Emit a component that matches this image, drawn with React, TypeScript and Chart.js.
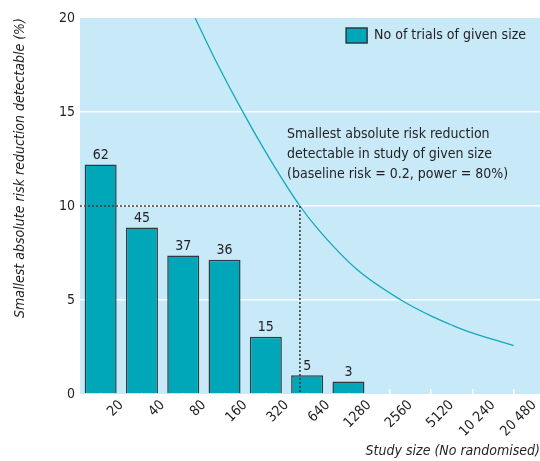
import { useEffect, useRef } from 'react';
import { Chart, registerables } from 'chart.js';

Chart.register(...registerables);

// Bin edges of study size (No randomised); bars sit between consecutive edges
const sizeEdges = [10, 20, 40, 80, 160, 320, 640, 1280, 2560, 5120, 10240, 20480];
const edgeLabels = ['20', '40', '80', '160', '320', '640', '1280', '2560', '5120', '10 240', '20 480'];
const trialCounts = [62, 45, 37, 36, 15, 5, 3];
const barHeights = [12.21, 8.86, 7.37, 7.14, 3.05, 1.0, 0.67];

// Curve: smallest absolute risk reduction detectable (%) vs study size
const curveSizes = [69, 98, 152, 243, 401, 543, 1045, 2187, 3741, 5233, 6617, 14490];
const curveARR = [20.0, 17.7, 15.07, 12.48, 10.0, 8.77, 6.62, 5.0, 4.1, 3.64, 3.35, 2.57];

// Reference (dotted) lines: 10% reduction needs ~400 participants
const refSizes = [10, 401, 401];
const refARR = [10, 10, 0];

const yTickValues = [0, 5, 10, 15, 20];
const axisMaxSize = 22540;

const annotationLines = [
  'Smallest absolute risk reduction',
  'detectable in study of given size',
  '(baseline risk = 0.2, power = 80%)',
];

const FONT = "'DejaVu Sans Condensed', 'Liberation Sans Narrow', sans-serif";
const FS = 14;
const TEXT = '#231f20';
const BG = '#c7e9f8';
const BAR = '#00a7b9';
const BAR_EDGE = '#2e3b40';
const CURVE = '#14a9bb';

export default function App() {
  const ref = useRef<HTMLCanvasElement | null>(null);

  useEffect(() => {
    document.body.style.margin = '0';
    const canvas = ref.current;
    if (!canvas) return;

    const barData = trialCounts.map((_, i) => ({
      x: Math.sqrt(sizeEdges[i] * sizeEdges[i + 1]),
      y: barHeights[i],
    }));
    const curveData = curveSizes.map((n, i) => ({ x: n, y: curveARR[i] }));
    const refData = refSizes.map((n, i) => ({ x: n, y: refARR[i] }));

    const background = {
      id: 'plotBg',
      beforeDraw(chart: any) {
        const { ctx, chartArea: a } = chart;
        ctx.save();
        ctx.fillStyle = BG;
        ctx.fillRect(a.left, a.top, a.right - a.left, a.bottom - a.top);
        ctx.restore();
      },
    };

    const legendInside = {
      id: 'legendInside',
      beforeUpdate(chart: any) {
        const lg = chart.legend;
        if (lg && !lg.__inside) {
          const fit = lg.fit.bind(lg);
          lg.fit = () => {
            fit();
            lg.height = 0;
          };
          lg.__inside = true;
        }
      },
      afterLayout(chart: any) {
        const lg = chart.legend;
        const a = chart.chartArea;
        if (!lg) return;
        const pad = lg.options.labels.padding;
        lg.left = a.left;
        lg.right = a.right - 14 + pad;
        lg.width = lg.right - lg.left;
        lg.top = a.top + 10 - pad;
        lg.bottom = lg.top + 44;
        lg.height = 44;
      },
    };

    const texts = {
      id: 'texts',
      afterDatasetsDraw(chart: any) {
        const { ctx, chartArea: a } = chart;
        const meta = chart.getDatasetMeta(0);
        ctx.save();
        ctx.fillStyle = TEXT;
        ctx.font = `${FS}px ${FONT}`;
        ctx.textAlign = 'center';
        ctx.textBaseline = 'bottom';
        meta.data.forEach((el: any, i: number) => {
          ctx.fillText(String(trialCounts[i]), el.x, el.y - 2);
        });
        ctx.textAlign = 'left';
        ctx.textBaseline = 'alphabetic';
        annotationLines.forEach((line, i) => {
          ctx.fillText(line, a.left + 207, a.top + 120 + i * 20);
        });
        ctx.restore();
      },
    };

    const chart = new Chart(canvas, {
      type: 'bar',
      data: {
        datasets: [
          {
            type: 'bar',
            label: 'No of trials of given size',
            data: barData,
            backgroundColor: BAR,
            borderColor: BAR_EDGE,
            borderWidth: 1.5,
            barPercentage: 0.775,
            categoryPercentage: 1,
            order: 3,
          } as any,
          {
            type: 'line',
            label: 'curve',
            data: curveData,
            borderColor: CURVE,
            borderWidth: 1.3,
            pointRadius: 0,
            cubicInterpolationMode: 'monotone',
            fill: false,
            order: 2,
          } as any,
          {
            type: 'line',
            label: 'reference',
            data: refData,
            borderColor: '#3c3c3c',
            borderWidth: 1.6,
            borderDash: [2, 2],
            pointRadius: 0,
            tension: 0,
            fill: false,
            order: 1,
          } as any,
        ],
      },
      options: {
        animation: false,
        responsive: false,
        maintainAspectRatio: false,
        devicePixelRatio: 1,
        layout: { padding: { top: 18, right: 0, left: 0, bottom: 0 } },
        plugins: {
          tooltip: { enabled: false },
          legend: {
            display: true,
            position: 'top',
            align: 'end',
            labels: {
              filter: (item: any) => item.datasetIndex === 0,
              boxWidth: 21,
              boxHeight: 15,
              padding: 10,
              color: TEXT,
              font: { family: FONT, size: FS },
            },
          },
        },
        scales: {
          x: {
            type: 'logarithmic',
            min: sizeEdges[0],
            max: axisMaxSize,
            afterBuildTicks: (scale: any) => {
              scale.ticks = sizeEdges.slice(1).map((v) => ({ value: v }));
            },
            afterFit: (scale: any) => {
              scale.height = 67;
              scale.paddingLeft = 0;
              scale.paddingRight = 0;
            },
            border: { display: false },
            grid: {
              drawOnChartArea: false,
              drawTicks: true,
              tickLength: -5,
              color: '#ffffff',
              lineWidth: 1.5,
            },
            ticks: {
              autoSkip: false,
              minRotation: 45,
              maxRotation: 45,
              padding: 8,
              color: TEXT,
              font: { family: FONT, size: FS },
              callback: (_v: any, i: number) => edgeLabels[i],
            },
            title: {
              display: true,
              text: 'Study size (No randomised)',
              align: 'end',
              color: TEXT,
              font: { family: FONT, size: FS, style: 'italic' },
              padding: { top: 0, bottom: 1 },
            },
          },
          y: {
            type: 'linear',
            min: 0,
            max: 20,
            afterBuildTicks: (scale: any) => {
              scale.ticks = yTickValues.map((v) => ({ value: v }));
            },
            afterFit: (scale: any) => {
              scale.width = 80;
              scale.paddingTop = 0;
              scale.paddingBottom = 0;
            },
            border: { display: false },
            grid: {
              drawTicks: false,
              color: (ctx: any) =>
                ctx.tick && ctx.tick.value > 0 && ctx.tick.value < 20 ? '#ffffff' : 'rgba(0,0,0,0)',
              lineWidth: 1.6,
            },
            ticks: {
              padding: 5,
              color: TEXT,
              font: { family: FONT, size: FS },
            },
            title: {
              display: true,
              text: 'Smallest absolute risk reduction detectable (%)',
              align: 'end',
              color: TEXT,
              font: { family: FONT, size: FS, style: 'italic' },
              padding: { top: 12, bottom: 0 },
            },
          },
        },
      } as any,
      plugins: [background, legendInside, texts],
    });

    return () => chart.destroy();
  }, []);

  return (
    <div style={{ position: 'fixed', left: 0, top: 0, width: 540, height: 461 }}>
      <canvas ref={ref} width={540} height={461} style={{ width: 540, height: 461, display: 'block' }} />
    </div>
  );
}
